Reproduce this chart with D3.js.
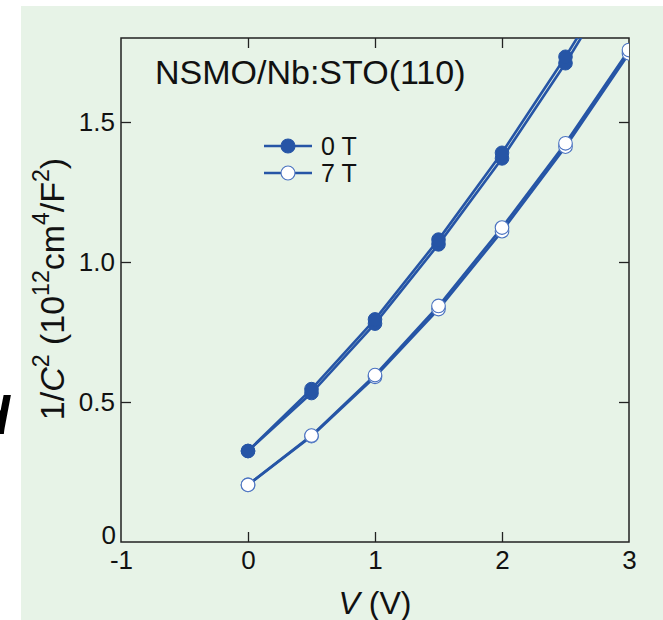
<!DOCTYPE html>
<html><head><meta charset="utf-8">
<script src="https://cdn.jsdelivr.net/npm/d3@7"></script>
<style>body{margin:0;background:#fff}svg{display:block}</style>
</head><body>
<svg id="c" width="663" height="620"></svg>
<script>
const voltages = [0, 0.5, 1.0, 1.5, 2.0, 2.5, 3.0];
const zeroT_a = [0.325, 0.546, 0.795, 1.080, 1.390, 1.733, 2.10];
const zeroT_b = [0.325, 0.532, 0.780, 1.063, 1.370, 1.710, 2.08];
const sevenT_a = [0.204, 0.380, 0.596, 0.843, 1.123, 1.424, 1.757];
const sevenT_b = [0.204, 0.378, 0.590, 0.832, 1.110, 1.412, 1.745];
const xTicks = [-1, 0, 1, 2, 3];
const xTickLabels = ["-1", "0", "1", "2", "3"];
const yTicks = [0, 0.5, 1.0, 1.5];
const yTickLabels = ["0", "0.5", "1.0", "1.5"];

const svg = d3.select("#c");
const font = "'Liberation Sans', Arial, sans-serif";
const blue = "#2655a6";
svg.append("rect").attr("x",21).attr("y",6).attr("width",642).attr("height",614).attr("fill","#e7f3e7");

// cropped panel letter at left edge
svg.append("text").attr("x",10).attr("y",434).attr("text-anchor","end")
  .attr("font-family",font).attr("font-size",54).attr("font-weight","bold").attr("font-style","italic")
  .attr("fill","#000").text("d");

const L=121,R=629,T=38,B=542;
const x = d3.scaleLinear().domain([-1,3]).range([L,R]);
const y = d3.scaleLinear().domain([0,1.8]).range([B,T]);

svg.append("defs").append("clipPath").attr("id","clip").append("rect")
  .attr("x",L).attr("y",T).attr("width",R-L).attr("height",B-T);

const tl = 10, tfs = 26;
svg.append("g").attr("transform",`translate(0,${B})`)
  .call(d3.axisBottom(x).tickValues(xTicks).tickSizeInner(-tl).tickSizeOuter(0).tickPadding(9).tickFormat((d,i)=>xTickLabels[i]))
  .call(g=>{g.attr("font-size",null);g.select(".domain").remove();g.selectAll("text").style("font-size",tfs+"px").style("font-family",font).attr("fill","#111");
    g.selectAll(".tick").filter(d=>d===-1||d===3).select("line").remove();
    g.selectAll("line").attr("stroke","#222").attr("stroke-width",1.3);});
svg.append("g").attr("transform",`translate(0,${T})`)
  .call(d3.axisTop(x).tickValues(xTicks.slice(1,-1)).tickSizeInner(-tl).tickSizeOuter(0).tickFormat(""))
  .call(g=>{g.select(".domain").remove();g.selectAll("line").attr("stroke","#222").attr("stroke-width",1.3);});
svg.append("g").attr("transform",`translate(${L},0)`)
  .call(d3.axisLeft(y).tickValues(yTicks).tickSizeInner(-tl).tickSizeOuter(0).tickPadding(6).tickFormat((d,i)=>yTickLabels[i]))
  .call(g=>{g.attr("font-size",null);g.select(".domain").remove();g.selectAll("text").style("font-size",tfs+"px").style("font-family",font).attr("fill","#111");
    g.selectAll(".tick").filter(d=>d===0).select("line").remove();
    g.selectAll(".tick").filter(d=>d===0).select("text").attr("x",-5).attr("dy","0.05em");
    g.selectAll("line").attr("stroke","#222").attr("stroke-width",1.3);});
svg.append("g").attr("transform",`translate(${R},0)`)
  .call(d3.axisRight(y).tickValues(yTicks.slice(1)).tickSizeInner(-tl).tickSizeOuter(0).tickFormat(""))
  .call(g=>{g.select(".domain").remove();g.selectAll("line").attr("stroke","#222").attr("stroke-width",1.3);});
svg.append("rect").attr("x",L).attr("y",T).attr("width",R-L).attr("height",B-T)
  .attr("fill","none").attr("stroke","#222").attr("stroke-width",1.5);

const line = d3.line().x((d,i)=>x(voltages[i])).y(d=>y(d));
const plot = svg.append("g").attr("clip-path","url(#clip)");
[zeroT_a, zeroT_b, sevenT_a, sevenT_b].forEach(s=>{
  plot.append("path").attr("d",line(s)).attr("fill","none").attr("stroke",blue).attr("stroke-width",2.6);
});
function markers(s, filled){
  plot.selectAll(null).data(s).enter().append("circle")
    .attr("cx",(d,i)=>x(voltages[i])).attr("cy",d=>y(d)).attr("r",6.8)
    .attr("fill",filled?blue:"#fff").attr("stroke",filled?blue:"#4a72c0").attr("stroke-width",filled?1:1.1);
}
markers(zeroT_b,true); markers(zeroT_a,true);
markers(sevenT_b,false); markers(sevenT_a,false);

// title
svg.append("text").attr("x",155).attr("y",84).style("font-family",font).style("font-size","34px").attr("fill","#111").text("NSMO/Nb:STO(110)");

// legend
const leg=[{t:"0 T",f:true,y:146},{t:"7 T",f:false,y:173}];
leg.forEach(l=>{
  svg.append("line").attr("x1",264).attr("x2",312).attr("y1",l.y).attr("y2",l.y).attr("stroke",blue).attr("stroke-width",2.4);
  svg.append("circle").attr("cx",288).attr("cy",l.y).attr("r",7).attr("fill",l.f?blue:"#fff").attr("stroke",l.f?blue:"#4a72c0").attr("stroke-width",1.1);
  svg.append("text").attr("x",321).attr("y",l.y+9).style("font-family",font).style("font-size","25px").attr("fill","#111").text(l.t);
});

// x label
const xl = svg.append("text").attr("x",x(1)).attr("y",614).attr("text-anchor","middle").style("font-family",font).style("font-size","32px").attr("fill","#111");
xl.append("tspan").attr("font-style","italic").text("V");
xl.append("tspan").text(" (V)");

// y label
const yl = svg.append("text").attr("transform",`translate(64,289) rotate(-90)`).attr("text-anchor","middle")
  .style("font-family",font).style("font-size","34px").attr("fill","#111");
const sup = 23;
yl.append("tspan").text("1/");
yl.append("tspan").attr("font-style","italic").text("C");
yl.append("tspan").style("font-size",sup+"px").attr("dy",-15).text("2");
yl.append("tspan").attr("dy",15).text(" (10");
yl.append("tspan").style("font-size",sup+"px").attr("dy",-15).text("12");
yl.append("tspan").attr("dy",15).text("cm");
yl.append("tspan").style("font-size",sup+"px").attr("dy",-15).text("4");
yl.append("tspan").attr("dy",15).text("/F");
yl.append("tspan").style("font-size",sup+"px").attr("dy",-15).text("2");
yl.append("tspan").attr("dy",15).text(")");
</script>
</body></html>
